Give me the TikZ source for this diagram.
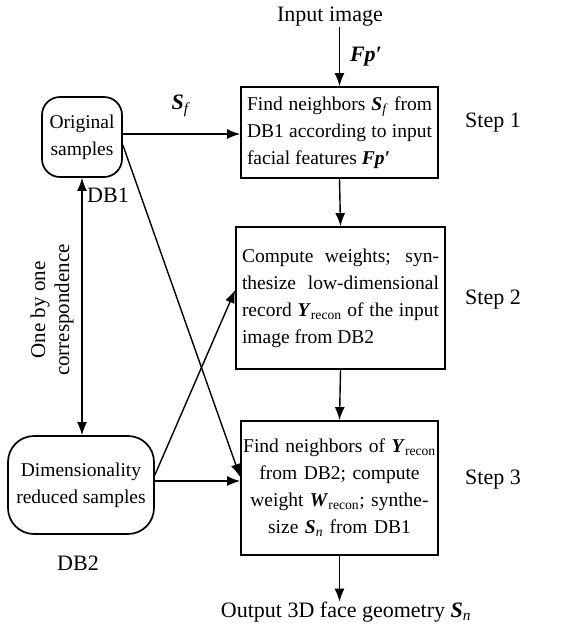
\documentclass[tikz,border=0pt]{standalone}
\usepackage{fontspec}
\setmainfont{Liberation Serif}
\usetikzlibrary{arrows.meta,calc}
\newcommand{\boxfont}{\fontsize{19.5}{27}\selectfont}
\newcommand{\lblfont}{\fontsize{22}{27}\selectfont}
\newcommand{\bi}[1]{\textbf{\textit{#1}}}
\newcommand{\rsub}[1]{\textsubscript{#1}}
\begin{document}
\begin{tikzpicture}[x=1pt,y=-1pt,
  stepbox/.style={draw, line width=1.7pt, inner sep=0pt, font=\boxfont},
  dbbox/.style={draw, line width=1.7pt, inner sep=0pt, font=\boxfont, align=center},
  tip/.tip={Latex[length=13pt,width=10pt]},
  arr/.style={-tip, line width=1.4pt},
  dblarr/.style={tip-tip, line width=1.4pt},
  lbl/.style={font=\lblfont, inner sep=0pt}]
\useasboundingbox (0,0) rectangle (567,630);

% processing steps
\node[lbl] (input) at (330,17) {Input image};
\node[stepbox, minimum width=197pt, minimum height=91pt, text width=185pt, align=justify] (s1) at (339.5,132.5)
  {Find neighbors \bi{S}\rsub{\textit{f}} from\linebreak DB1 according to input\linebreak facial features \bi{Fp′}};
\node[stepbox, minimum width=209pt, minimum height=142pt, text width=197pt, align=justify] (s2) at (340.5,298)
  {Compute weights; syn-\linebreak thesize low-dimensional\linebreak record \bi{Y}\rsub{recon} of the input\linebreak image from DB2};
\node[stepbox, minimum width=197pt, minimum height=134pt, text width=196pt, align=center] (s3) at (339.5,488)
  {Find neighbors of \bi{Y}\rsub{recon}\\ from DB2; compute\\ weight \bi{W}\rsub{recon}; synthe-\\ size \bi{S}\rsub{\textit{n}} from DB1};
\node[lbl] (output) at (346,612) {Output 3D face geometry \bi{S}\rsub{\textit{n}}};

\node[lbl] (t1) at (493,123) {Step 1};
\node[lbl] (t2) at (493,300) {Step 2};
\node[lbl] (t3) at (493,480) {Step 3};

% sample databases
\node[dbbox, rounded corners=18pt, minimum width=80pt, minimum height=80pt] (orig) at (82,137) {Original\\ samples};
\node[dbbox, rounded corners=26pt, minimum width=146pt, minimum height=98pt] (dim) at (81,485) {Dimensionality\\ reduced samples};
\node[lbl] (db1) at (108,195) {DB1};
\node[lbl] (db2) at (78,563) {DB2};
\node[lbl, rotate=90, align=center, font=\fontsize{21}{24}\selectfont] (corr) at (52,310) {One by one\\ correspondence};

% labels on connectors
\node[lbl] (sf) at (181,106) {\bi{S}\rsub{\textit{f}}};
\node[lbl] (fp) at (366,57) {\bi{Fp′}};

% connectors
\draw[arr] (input.south -| s1.north) -- (s1.north);
\draw[arr] (s1.south) -- (s2.north);
\draw[arr] (s2.south) -- (s3.north);
\draw[arr] (s3.south) -- (output.north -| s3.south);
\draw[arr] ([yshift=3pt]orig.east) coordinate (oe) -- (oe -| s1.west);
\draw[dblarr] (orig.south) -- (orig.south |- dim.north);
\draw[arr] ([yshift=-8pt]orig.east) -- ([yshift=11pt]s3.west);
\draw[arr] ([yshift=10pt]dim.east) -- ([yshift=8pt]s2.west);
\draw[arr] ([yshift=4pt]dim.east) coordinate (de) -- (de -| s3.west);
\end{tikzpicture}
\end{document}
